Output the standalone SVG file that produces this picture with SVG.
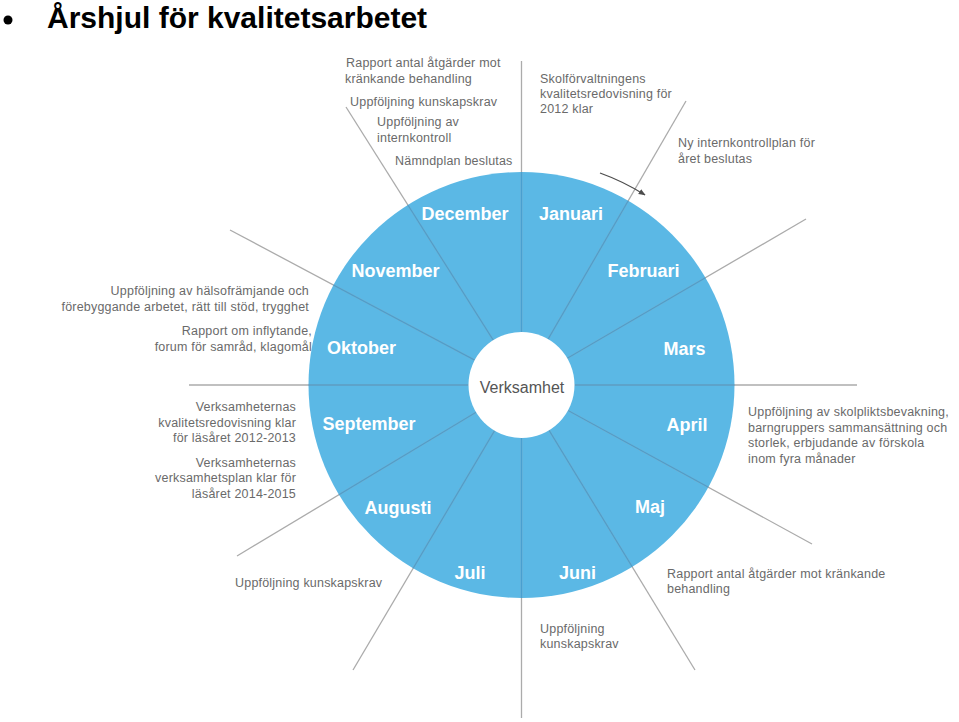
<svg xmlns="http://www.w3.org/2000/svg" width="959" height="722" viewBox="0 0 959 722">
<style>
  .title { font-family: "Liberation Sans", Arial, sans-serif; font-weight: bold; font-size: 30px; fill: #000; }
  .month { font-family: "Liberation Sans", Arial, sans-serif; font-weight: bold; font-size: 18px; fill: #ffffff; text-anchor: middle; }
  .hub { font-family: "Liberation Sans", Arial, sans-serif; font-size: 16px; fill: #555555; text-anchor: middle; }
  .note { font-family: "Liberation Sans", Arial, sans-serif; font-size: 12.5px; letter-spacing: 0.2px; fill: #6a6a6a; }
  .end { text-anchor: end; }
  .spoke { stroke: #ababab; stroke-width: 1.3; fill: none; }
  .inblue .spoke { stroke: #4a9fcf; }
</style>
<defs>
  <marker id="ah" viewBox="0 0 10 10" refX="9" refY="5" markerWidth="7" markerHeight="7" orient="auto" markerUnits="userSpaceOnUse">
    <path d="M0,1 L10,5 L0,9 z" fill="#4d4d4d"/>
  </marker>
  <clipPath id="wheelclip">
    <circle cx="521.5" cy="385" r="213"/>
  </clipPath>
</defs>
<rect width="959" height="722" fill="#ffffff"/>

<g id="title">
  <circle cx="8" cy="20" r="4.5" fill="#000"/>
  <text class="title" x="47" y="28">Årshjul för kvalitetsarbetet</text>
</g>

<g id="wheel">
  <circle cx="521.5" cy="385" r="213" fill="#5bb8e5"/>
</g>

<g id="connectors">
  <g id="spokes">
    <line class="spoke" x1="521.5" y1="61" x2="521.5" y2="332"/>
    <line class="spoke" x1="521.5" y1="438" x2="521.5" y2="718"/>
    <line class="spoke" x1="189" y1="385" x2="468.5" y2="385"/>
    <line class="spoke" x1="574.5" y1="385" x2="857" y2="385"/>
    <line class="spoke" x1="686" y1="101" x2="548.1" y2="339.1"/>
    <line class="spoke" x1="806" y1="219" x2="567.3" y2="358.3"/>
    <line class="spoke" x1="812" y1="544" x2="568.1" y2="410.5"/>
    <line class="spoke" x1="695" y1="670" x2="549.1" y2="430.3"/>
    <line class="spoke" x1="353" y1="670" x2="494.6" y2="430.6"/>
    <line class="spoke" x1="237" y1="556" x2="476.1" y2="412.3"/>
    <line class="spoke" x1="230" y1="230" x2="474.7" y2="360.1"/>
    <line class="spoke" x1="346" y1="107" x2="493.4" y2="340.4"/>
  </g>
  <g class="inblue" clip-path="url(#wheelclip)">
    <line class="spoke" x1="521.5" y1="61" x2="521.5" y2="332"/>
    <line class="spoke" x1="521.5" y1="438" x2="521.5" y2="718"/>
    <line class="spoke" x1="189" y1="385" x2="468.5" y2="385"/>
    <line class="spoke" x1="574.5" y1="385" x2="857" y2="385"/>
    <line class="spoke" x1="686" y1="101" x2="548.1" y2="339.1"/>
    <line class="spoke" x1="806" y1="219" x2="567.3" y2="358.3"/>
    <line class="spoke" x1="812" y1="544" x2="568.1" y2="410.5"/>
    <line class="spoke" x1="695" y1="670" x2="549.1" y2="430.3"/>
    <line class="spoke" x1="353" y1="670" x2="494.6" y2="430.6"/>
    <line class="spoke" x1="237" y1="556" x2="476.1" y2="412.3"/>
    <line class="spoke" x1="230" y1="230" x2="474.7" y2="360.1"/>
    <line class="spoke" x1="346" y1="107" x2="493.4" y2="340.4"/>
  </g>
  <path d="M600,173 A227,227 0 0 1 645,195" fill="none" stroke="#4d4d4d" stroke-width="1.3" marker-end="url(#ah)"/>
</g>

<g id="hub">
  <circle cx="521.5" cy="385" r="53" fill="#ffffff"/>
  <text class="hub" x="522" y="393">Verksamhet</text>
</g>

<g id="m-december"><text class="month" x="465" y="220">December</text></g>
<g id="m-januari"><text class="month" x="571" y="220">Januari</text></g>
<g id="m-februari"><text class="month" x="643.5" y="277">Februari</text></g>
<g id="m-mars"><text class="month" x="684.5" y="355">Mars</text></g>
<g id="m-april"><text class="month" x="687" y="431">April</text></g>
<g id="m-maj"><text class="month" x="650" y="513">Maj</text></g>
<g id="m-juni"><text class="month" x="577.5" y="579">Juni</text></g>
<g id="m-juli"><text class="month" x="470" y="579">Juli</text></g>
<g id="m-augusti"><text class="month" x="398" y="514">Augusti</text></g>
<g id="m-september"><text class="month" x="369" y="430">September</text></g>
<g id="m-oktober"><text class="month" x="361.5" y="354">Oktober</text></g>
<g id="m-november"><text class="month" x="395.5" y="277">November</text></g>

<g id="n-dec-rapport">
  <text class="note" x="346" y="67">Rapport antal åtgärder mot</text>
  <text class="note" x="345" y="83">kränkande behandling</text>
</g>
<g id="n-dec-kunskapskrav">
  <text class="note" x="350" y="106">Uppföljning kunskapskrav</text>
</g>
<g id="n-dec-internkontroll">
  <text class="note" x="377" y="126">Uppföljning av</text>
  <text class="note" x="377" y="142">internkontroll</text>
</g>
<g id="n-dec-namndplan">
  <text class="note" x="395" y="165">Nämndplan beslutas</text>
</g>
<g id="n-jan-skolforvaltning">
  <text class="note" x="540" y="83">Skolförvaltningens</text>
  <text class="note" x="540" y="98">kvalitetsredovisning för</text>
  <text class="note" x="540" y="113">2012 klar</text>
</g>
<g id="n-feb-internkontrollplan">
  <text class="note" x="678" y="147">Ny internkontrollplan för</text>
  <text class="note" x="678" y="163">året beslutas</text>
</g>
<g id="n-apr-skolplikt">
  <text class="note" x="748" y="416">Uppföljning av skolpliktsbevakning,</text>
  <text class="note" x="748" y="432">barngruppers sammansättning och</text>
  <text class="note" x="748" y="447">storlek, erbjudande av förskola</text>
  <text class="note" x="748" y="463">inom fyra månader</text>
</g>
<g id="n-maj-rapport">
  <text class="note" x="667" y="578">Rapport antal åtgärder mot kränkande</text>
  <text class="note" x="667" y="593">behandling</text>
</g>
<g id="n-jun-kunskapskrav">
  <text class="note" x="540" y="633">Uppföljning</text>
  <text class="note" x="540" y="648">kunskapskrav</text>
</g>
<g id="n-jul-kunskapskrav">
  <text class="note" x="235" y="587">Uppföljning kunskapskrav</text>
</g>
<g id="n-sep-verksamhetsplan">
  <text class="note end" x="296" y="467">Verksamheternas</text>
  <text class="note end" x="296" y="482">verksamhetsplan klar för</text>
  <text class="note end" x="296" y="498">läsåret 2014-2015</text>
</g>
<g id="n-sep-kvalitetsredovisning">
  <text class="note end" x="296" y="411">Verksamheternas</text>
  <text class="note end" x="296" y="427">kvalitetsredovisning klar</text>
  <text class="note end" x="296" y="442">för läsåret 2012-2013</text>
</g>
<g id="n-okt-inflytande">
  <text class="note end" x="312" y="335">Rapport om inflytande,</text>
  <text class="note end" x="312" y="351">forum för samråd, klagomål</text>
</g>
<g id="n-okt-halsa">
  <text class="note end" x="309" y="295">Uppföljning av hälsofrämjande och</text>
  <text class="note end" x="309" y="311">förebyggande arbetet, rätt till stöd, trygghet</text>
</g>
</svg>
